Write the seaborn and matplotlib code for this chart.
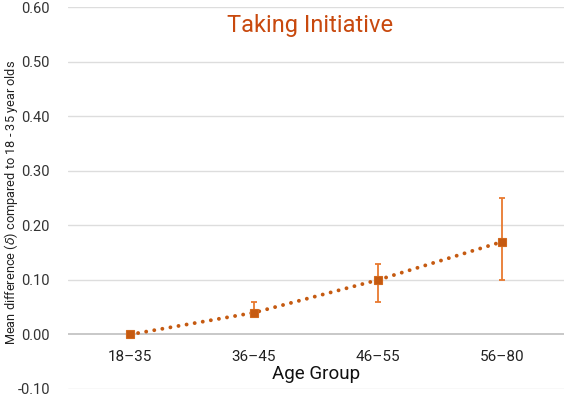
import matplotlib
matplotlib.use("Agg")
import matplotlib.pyplot as plt
import seaborn as sns
import pandas as pd
import numpy as np

# Data
age_groups = ["18\u201335", "36\u201345", "46\u201355", "56\u201380"]
mean_diff = [0.00, 0.04, 0.10, 0.17]
err_low = [0.00, 0.035, 0.06, 0.10]
err_high = [0.00, 0.06, 0.13, 0.25]
y_ticks = [-0.10, 0.00, 0.10, 0.20, 0.30, 0.40, 0.50, 0.60]

sns.set_theme(style="white")
plt.rcParams["font.family"] = ["Liberation Sans Narrow", "Roboto", "DejaVu Sans"]

df = pd.DataFrame({"Age Group": age_groups, "Mean": mean_diff})

fig = plt.figure(figsize=(5.67, 3.96), dpi=100)
ax = fig.add_axes([68 / 567, 1 - 389 / 396, (564 - 68) / 567, (389 - 7.3) / 396])

line_col = "#C55A11"
err_col = "#E8792F"

yerr = np.array([np.array(mean_diff) - np.array(err_low),
                 np.array(err_high) - np.array(mean_diff)])
ax.errorbar(age_groups, mean_diff, yerr=yerr, fmt="none", ecolor=err_col,
            elinewidth=1.3, capsize=2.2, capthick=1.3, zorder=2)

sns.lineplot(data=df, x="Age Group", y="Mean", ax=ax, color=line_col,
             marker="s", markersize=6.2, markeredgecolor="#D2691E",
             markeredgewidth=0.8, linewidth=2.8,
             linestyle=(0, (0.01, 2.1)), dash_capstyle="round", zorder=3,
             sort=False)

ax.set_xlim(-0.5, 3.5)
ax.set_ylim(-0.10, 0.60)
ax.set_yticks(y_ticks)
ax.set_yticklabels([f"{v:.2f}" for v in y_ticks], fontsize=10.5, color="#333333")

for v in y_ticks:
    ax.axhline(v, color="#BFBFBF" if v == 0 else "#DDDDDD", lw=1.2 if v == 0 else 1.0, zorder=0)

for s in ax.spines.values():
    s.set_visible(False)
ax.spines["bottom"].set_position(("data", 0))
ax.tick_params(axis="both", length=0)
ax.tick_params(axis="x", pad=11, labelsize=11, labelcolor="#222222")
ax.tick_params(axis="y", pad=13)

ax.set_xlabel("Age Group", fontsize=13.5, color="#111111")
ax.xaxis.set_label_coords(0.5, 0.062)
ax.xaxis.label.set_va("top")
ax.set_ylabel("Mean difference ($\\delta$) compared to 18 - 35 year olds",
              fontsize=9.2, color="#222222")
ax.yaxis.set_label_coords(-0.114, 0.488)
ax.yaxis.label.set_va("center")

ax.text(1.455, 0.567, "Taking Initiative", ha="center", va="center",
        fontsize=17, color="#C8490E")

fig.savefig("out.png", dpi=100)
